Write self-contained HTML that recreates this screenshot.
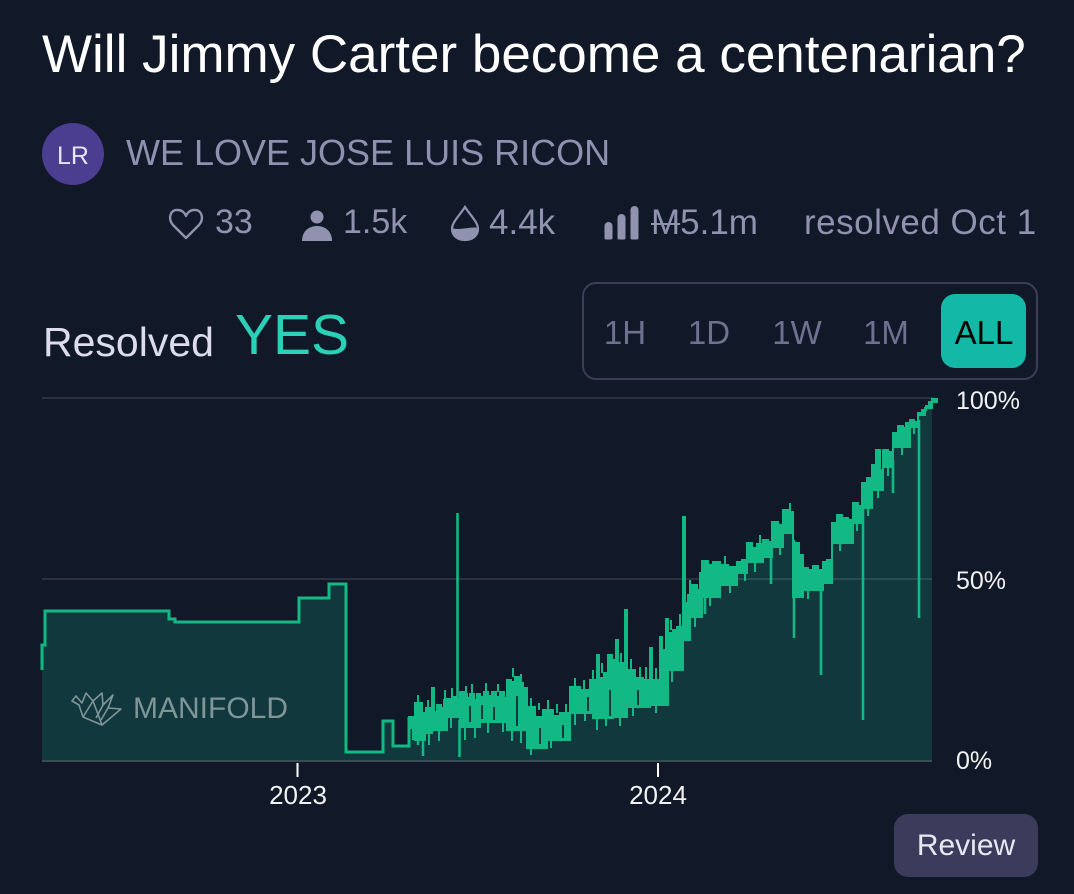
<!DOCTYPE html>
<html>
<head>
<meta charset="utf-8">
<style>
html,body{margin:0;padding:0}
body{width:1074px;height:894px;background:#111827;position:relative;overflow:hidden;font-family:"Liberation Sans",sans-serif}
.t{position:absolute;white-space:nowrap;line-height:1}
.s{color:#9092b0;top:205px;font-size:35px}
.b{top:316px;width:100px;text-align:center;font-size:33px;color:#6e7191}
.y{left:956px;font-size:25px;color:#f2f2f2}
.x{top:782px;width:100px;text-align:center;font-size:26px;color:#f2f2f2}
</style>
</head>
<body>

<div class="t" style="left:42px;top:28px;font-size:53px;color:#fff">Will Jimmy Carter become a centenarian?</div>

<div style="position:absolute;left:42px;top:123px;width:62px;height:62px;border-radius:50%;background:#4b3d90"></div>
<div class="t" style="left:42px;top:144px;width:62px;text-align:center;font-size:25px;color:#e6e4f5">LR</div>
<div class="t" style="left:126px;top:135px;font-size:36px;color:#8f91b1">WE LOVE JOSE LUIS RICON</div>

<svg style="position:absolute;left:0;top:0" width="1074" height="300">
<path d="M186,238 L173,225 C167,218 171,209 178,210 C182,210 185,213 186,216 C187,213 190,210 194,210 C201,209 205,218 199,225 Z" fill="none" stroke="#9092b0" stroke-width="2.4" stroke-linejoin="round"/>
<circle cx="317" cy="217" r="6.5" fill="#9092b0"/>
<path d="M302,241 C302,231 309,226 317,226 C325,226 332,231 332,241 Z" fill="#9092b0"/>
<path d="M465,207 C470,215 478,222 478,229 C478,236 472,240 465,240 C458,240 452,236 452,229 C452,222 460,215 465,207 Z" fill="none" stroke="#9092b0" stroke-width="2.2"/>
<path d="M452.5,228 C458,231 472,226 477.5,228 C478,236 472,240 465,240 C458,240 452,236 452.5,228 Z" fill="#9092b0"/>
<path d="M606,226a2.5,2.5 0 0 1 5,0v12h-5zM619,218a2.5,2.5 0 0 1 5,0v20h-5zM632,210a2.5,2.5 0 0 1 5,0v28h-5z" fill="#9092b0" stroke="#9092b0" stroke-width="3" stroke-linejoin="round"/>
</svg>
<div class="t s" style="left:215px;font-size:34px">33</div>
<div class="t s" style="left:343px;font-size:34px">1.5k</div>
<div class="t s" style="left:489px">4.4k</div>
<div class="t s" style="left:651px"><span style="text-decoration:line-through;text-decoration-thickness:2px">M</span>5.1m</div>
<div class="t s" style="left:804px;letter-spacing:0.5px">resolved Oct 1</div>

<div class="t" style="left:43px;top:322px;font-size:41px;color:#dcdcec">Resolved</div>
<div class="t" style="left:235px;top:307px;font-size:57px;color:#2bd0b6">YES</div>

<div style="position:absolute;left:582px;top:282px;width:452px;height:94px;border:2px solid #3a3e56;border-radius:14px"></div>
<div style="position:absolute;left:941px;top:294px;width:85px;height:74px;background:#14b8a6;border-radius:14px"></div>
<div class="t b" style="left:575px">1H</div>
<div class="t b" style="left:659px">1D</div>
<div class="t b" style="left:747px">1W</div>
<div class="t b" style="left:836px">1M</div>
<div class="t b" style="left:934px;color:#000">ALL</div>

<svg style="position:absolute;left:0;top:0" width="1074" height="894">
<path fill="#11383c" d="M42,760V645H45V611H169V619H175V622H299V598H329V584H346V752H383V721H393V746H409V728H415V740H425V733H432V730H447V717H460V727H480V722H507V730H527V748H547V740H570V713H593V718H613V717H627V707H650V705H668V670H683V640H690V617H702V597H720V585H737V573H747V562H763V557H772V547H783V533H793V597H803V590H823V583H832V543H853V523H862V508H872V490H883V467H893V447H910V427H918V415H925V408H932V760Z"/>

<path d="M42,398H935M42,579H932" stroke="#fff" stroke-opacity="0.11" stroke-width="2"/>
<path d="M42,761H932" stroke="#3a4d55" stroke-width="2"/>

<g fill="none" stroke="#7f9597" stroke-width="1.6" stroke-linejoin="round">
<path d="M72,701 L76,696 L82,703 L86,693 L93,701 L102,693 L103,705 L113,695 L108,708 L121,709 L102,725 L83,717 L79,705 Z"/>
<path d="M83,717 L93,701 M93,701 L102,725 M103,705 L96,718 M108,708 L101,720"/>
</g>
<text x="133" y="718" font-family="Liberation Sans, sans-serif" font-size="30" fill="#7f9597">MANIFOLD</text>

<path fill="none" stroke="#13b985" stroke-width="3" d="M42,670V645H45V611H169V619H175V622H299V598H329V584H346V752H383V721H393V746H409V717"/>

<path fill="#13b985" stroke="#13b985" stroke-width="2" d="M409,728V717H413V725H415V703H422V713H426V708H430V716H432V688H434V712H437V705H441V708H444V700H447V699H452V697H456V699H460V692H464V694H467V698H470V694H474V700H477V694H480V697H484V692H488V696H492V692H496V697H500V692H504V698H507V680H511V682H515V677H519V683H523V688H527V707H535V717H543V710H553V716H560V713H570V687H580V690H590V680H597V655H599V678H604V673H608V655H612V660H616V640H618V663H625V610H627V670H635V678H643V680H650V648H652V680H660V637H662V650H666V619H668V633H673V630H677V627H683V517H685V603H688V595H692V585H697V590H702V561H708V565H713V562H720V565H728V567H737V562H742V560H747V543H752V548H757V544H763V540H768V542H772V522H778V525H783V510H788V512H793V543H799V555H803V568H808V570H813V566H818V570H823V562H827V560H832V523H837V515H842V518H848V520H853V503H858V506H862V483H867V478H872V465H876V450H880V470H883V450H888V452H893V433H898V426H903V428H906V423H910V420H914V422H918V413H922V410H926V406H929V402H932V399H937V402H932V408H925V415H918V427H910V447H893V467H883V490H872V508H862V523H853V543H832V583H823V590H803V597H793V533H783V547H772V557H763V562H747V573H737V585H720V597H702V617H690V640H683V670H668V705H650V707H627V717H613V718H593V713H570V740H547V748H527V730H507V722H480V727H460V717H447V730H432V733H425V740H415V728H409Z"/>

<path stroke="#11383c" stroke-width="2" d="M470,706V722M482,705V719M494,707V720M517,696V726M540,728V744M563,725V738M588,697V711M610,690V716M638,690V705"/>

<path stroke="#13b985" stroke-width="2" d="M418,704V695M428,709V700M445,700V690M452,698V688M466,694V686M472,694V684M486,692V683M498,692V684M513,677V668M521,683V674M531,707V698M539,710V703M548,710V700M557,713V704M566,713V704M575,687V678M584,690V680M593,680V670M602,673V663M621,663V653M631,670V659M640,678V667M646,680V667M656,680V668M671,630V620M680,627V614M690,595V580M700,590V572M725,565V556M760,544V535M790,512V503M413,725V740M429,733V745M439,730V741M451,717V728M465,727V740M475,727V738M488,722V733M503,722V732M512,730V741M521,730V743M531,748V755M551,740V748M575,713V725M585,713V721M597,718V730M606,718V726M620,717V726M633,707V716M656,705V713M672,670V682M695,617V627M710,597V606M730,585V593M745,573V581M755,562V572M780,547V555M808,590V599M840,543V551M857,523V531M868,508V516M878,490V498M888,467V476M902,447V455M914,427V434"/>

<path stroke="#13b985" stroke-width="2.6" d="M423,730V756M457.5,700V513M459.5,720V757M418,735V745M705,590V614M771,550V584M794,540V638M821,585V675M863,505V720M893,460V493M919,420V618"/>

<path stroke="#fff" stroke-width="2" d="M297.5,763V777M658,763V777"/>
</svg>

<div class="t y" style="top:389px">100%</div>
<div class="t y" style="top:569px">50%</div>
<div class="t y" style="top:749px">0%</div>

<div class="t x" style="left:248px">2023</div>
<div class="t x" style="left:608px">2024</div>

<div style="position:absolute;left:894px;top:814px;width:144px;height:63px;background:#3c3b5c;border-radius:14px"></div>
<div class="t" style="left:894px;top:831px;width:144px;text-align:center;font-size:30px;color:#e8e8f2">Review</div>

</body>
</html>
